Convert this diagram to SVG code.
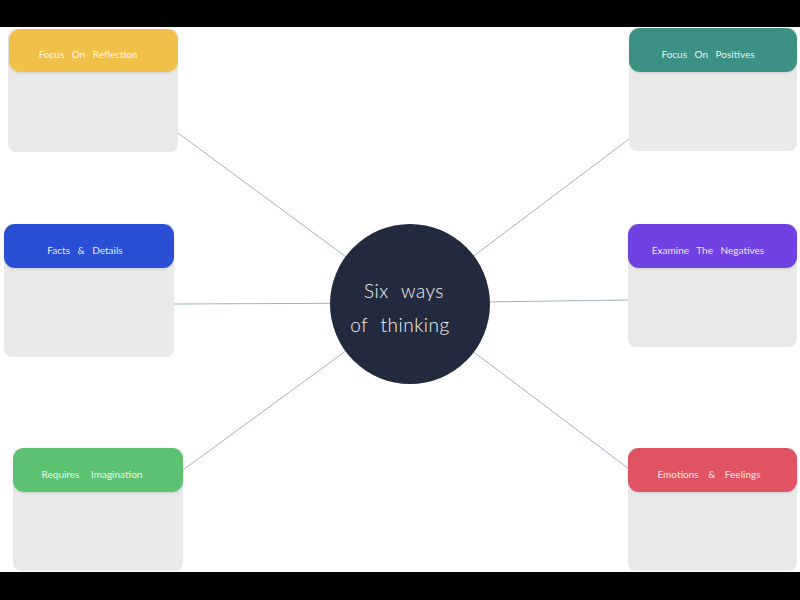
<svg xmlns="http://www.w3.org/2000/svg" width="800" height="600" viewBox="0 0 800 600">
  <style>
    .card { fill: #e9e9e9; }
    .head-text { font-family: Lato, "Open Sans", sans-serif; font-size: 10px; fill: #ffffff; fill-opacity: 0.9; text-anchor: middle; word-spacing: 5px; }
    .hub-text { font-family: Lato, "Open Sans", sans-serif; font-size: 19px; font-weight: 300; fill: #f2f2f2; text-anchor: middle; word-spacing: 7px; letter-spacing: 0.5px; }
    .link { stroke: #a3b0c6; stroke-width: 1; fill: none; }
  </style>
  <defs>
    <filter id="soft" x="-5%" y="-10%" width="110%" height="130%">
      <feDropShadow dx="0" dy="1" stdDeviation="1" flood-color="#000" flood-opacity="0.12"/>
    </filter>
  </defs>

  <rect x="0" y="0" width="800" height="600" fill="#ffffff"/>

  <!-- connectors from each card to the hub -->
  <g id="connectors">
    <line class="link" x1="178" y1="133" x2="410" y2="304"/>
    <line class="link" x1="629" y1="139" x2="410" y2="304"/>
    <line class="link" x1="174" y1="304" x2="410" y2="303"/>
    <line class="link" x1="629" y1="300" x2="410" y2="303"/>
    <line class="link" x1="183" y1="470" x2="410" y2="304"/>
    <line class="link" x1="629" y1="469" x2="410" y2="304"/>
  </g>

  <g id="hub">
    <circle cx="410" cy="304" r="80" fill="#222b3d"/>
    <text class="hub-text" x="404" y="298">Six ways</text>
    <text class="hub-text" x="400" y="332">of thinking</text>
  </g>

  <g id="reflection">
    <rect class="card" x="8" y="29" width="170" height="123" rx="8"/>
    <rect x="9" y="29" width="169" height="43" rx="11" fill="#f0c04b" filter="url(#soft)"/>
    <text class="head-text" x="88" y="58">Focus On Reflection</text>
  </g>

  <g id="positives">
    <rect class="card" x="629" y="28" width="168" height="123" rx="8"/>
    <rect x="629" y="28" width="168" height="44" rx="11" fill="#3e9182" filter="url(#soft)"/>
    <text class="head-text" x="708" y="58">Focus On Positives</text>
  </g>

  <g id="facts">
    <rect class="card" x="4" y="224" width="170" height="133" rx="8"/>
    <rect x="4" y="224" width="170" height="44" rx="11" fill="#2a4fd6" filter="url(#soft)"/>
    <text class="head-text" x="85" y="254">Facts &amp; Details</text>
  </g>

  <g id="negatives">
    <rect class="card" x="628" y="224" width="169" height="123" rx="8"/>
    <rect x="628" y="224" width="169" height="44" rx="11" fill="#7142e3" filter="url(#soft)"/>
    <text class="head-text" x="708" y="254">Examine The Negatives</text>
  </g>

  <g id="imagination">
    <rect class="card" x="13" y="448" width="170" height="123" rx="8"/>
    <rect x="13" y="448" width="170" height="44" rx="11" fill="#5cc170" filter="url(#soft)"/>
    <text class="head-text" x="92" y="478" style="word-spacing:9px">Requires Imagination</text>
  </g>

  <g id="feelings">
    <rect class="card" x="628" y="448" width="169" height="123" rx="8"/>
    <rect x="628" y="448" width="169" height="44" rx="11" fill="#e05264" filter="url(#soft)"/>
    <text class="head-text" x="709" y="478" style="word-spacing:7px">Emotions &amp; Feelings</text>
  </g>

  <!-- letterbox bands -->
  <rect x="0" y="0" width="800" height="27" fill="#000000"/>
  <rect x="0" y="572" width="800" height="28" fill="#000000"/>
</svg>
